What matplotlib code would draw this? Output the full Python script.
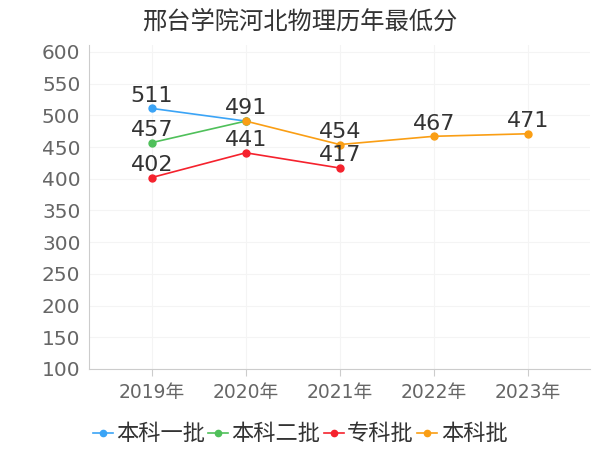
import matplotlib
matplotlib.use("Agg")
import matplotlib.pyplot as plt
import numpy as np

plt.rcParams['font.family'] = ['DejaVu Sans', 'Noto Sans CJK SC']

years = ["2019年", "2020年", "2021年", "2022年", "2023年"]
names = ["本科一批", "本科二批", "专科批", "本科批"]
benke1 = [511, 491, None, None, None]
benke2 = [457, 491, None, None, None]
zhuanke = [402, 441, 417, None, None]
benke = [None, 491, 454, 467, 471]
colors = ["#3ba4f6", "#4fc05a", "#f5222d", "#fa9e14"]

fig = plt.figure(figsize=(6, 4.5), dpi=100)
ax = fig.add_axes([0.148, 0.18, 0.835, 0.72])

x = np.arange(len(years))
done = set()
for vals, name, c in zip([benke1, benke2, zhuanke, benke], names, colors):
    y = np.array([np.nan if v is None else v for v in vals], dtype=float)
    ax.plot(x, y, color=c, lw=1.2, marker='o', ms=5, label=name)
    for xi, v in zip(x, vals):
        if v is not None and (xi, v) not in done:
            done.add((xi, v))
            ax.annotate(str(v), (xi, v), xytext=(0, 2), textcoords='offset points',
                        ha='center', va='bottom', fontsize=16, color='#333333')

ax.set_xlim(-0.67, 4.66)
ax.set_ylim(100, 611)
ax.set_yticks(range(100, 601, 50))
ax.set_xticks(x)
ax.set_xticklabels(years)
ax.tick_params(axis='y', length=0, labelsize=14.5, labelcolor='#666666', pad=6)
ax.tick_params(axis='x', length=5, color='#cccccc', labelsize=13.5, labelcolor='#666666', pad=5)
ax.grid(True, color='#f4f4f4', lw=0.8)
ax.set_axisbelow(True)
for s in ['top', 'right']:
    ax.spines[s].set_visible(False)
for s in ['left', 'bottom']:
    ax.spines[s].set_color('#cccccc')

fig.suptitle("邢台学院河北物理历年最低分", x=0.5, y=0.978, fontsize=17.5, color='#333333')

fig.legend(loc='lower center', bbox_to_anchor=(0.5, -0.032), ncol=4, frameon=False,
           fontsize=16, handlelength=0.9, handletextpad=0.15, columnspacing=0.15,
           labelcolor='#333333', markerscale=0.9)

fig.savefig("out.png", dpi=100)
